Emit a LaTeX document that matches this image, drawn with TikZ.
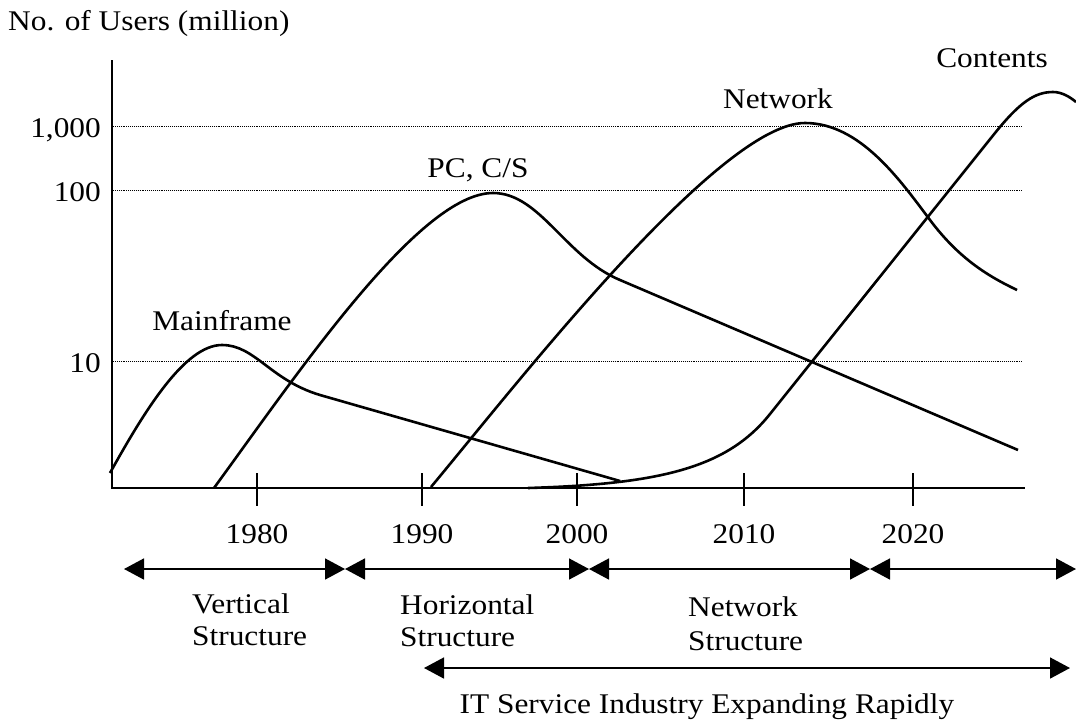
\documentclass[tikz,border=0pt]{standalone}
\usepackage{fontspec}
\setmainfont[FakeStretch=1.1]{Liberation Serif}
\usetikzlibrary{arrows.meta}
\begin{document}
\begin{tikzpicture}[x=1pt,y=-1pt,
  lbl/.style={inner sep=0pt,font=\fontsize{28.5}{32}\selectfont},
  axisline/.style={line width=1.6pt},
  gridline/.style={densely dotted,line width=0.9pt},
  curve/.style={line width=2.6pt,line join=round},
  span/.style={line width=1.6pt,{Triangle[length=20pt,width=21pt]}-{Triangle[length=20pt,width=21pt]}},
  ticks/.style={line width=1.6pt}]
\useasboundingbox (0,0) rectangle (1076,724);
% axes
\coordinate (ytop) at (112,60);
\coordinate (orig) at (112,488);
\coordinate (xend) at (1025,488);
\draw[axisline] (ytop) -- (orig) -- (xend);
% grid lines
\foreach \yy/\nm in {126/g1,190/g2,361/g3}{
  \coordinate (\nm a) at (113,\yy);
  \coordinate (\nm b) at (1023,\yy);
  \draw[gridline] (\nm a) -- (\nm b);
}
\node[lbl,anchor=base east] (l1000) at (101,137) {1,000};
\node[lbl,anchor=base east] (l100) at (101,201) {100};
\node[lbl,anchor=base east] (l10) at (101,372) {10};
\node[lbl,anchor=base west] (ylab) at (8,30) {No. of Users (million)};
% ticks and years
\foreach \xx/\yr in {257/1980,422/1990,577/2000,744/2010,913/2020}{
  \coordinate (t\yr a) at (\xx,473);
  \coordinate (t\yr b) at (\xx,506);
  \draw[ticks] (t\yr a) -- (t\yr b);
  \node[lbl,anchor=base] (y\yr) at (\xx,543) {\yr};
}
% curves
\draw[curve] (110,473) .. controls (145,410) and (185,345) .. (222,345)
  .. controls (255,345) and (270,380) .. (320,395) -- (620,481);
\draw[curve] (214,488) .. controls (300,370) and (420,193) .. (493,193)
  .. controls (540,193) and (565,257) .. (620,280) -- (1018,450);
\draw[curve] (431,487) .. controls (520,380) and (720,123) .. (805,123)
  .. controls (860,123) and (900,180) .. (930,220)
  .. controls (960,260) and (990,277) .. (1017,290);
\draw[curve] (528,488) .. controls (660,484) and (727,468) .. (770,414)
  -- (995,133) .. controls (1020,102) and (1035,92) .. (1053,92)
  .. controls (1062,92) and (1070,97) .. (1076,102);
% curve labels
\node[lbl,anchor=base] (mf) at (222,330) {Mainframe};
\node[lbl,anchor=base] (pc) at (478,177) {PC, C/S};
\node[lbl,anchor=base] (nw) at (778,108) {Network};
\node[lbl,anchor=base] (ct) at (992,67) {Contents};
% period arrows
\coordinate (a0) at (124,569);
\coordinate (a1) at (345,569);
\coordinate (a2) at (589,569);
\coordinate (a3) at (870,569);
\coordinate (a4) at (1076,569);
\draw[span] (a0) -- (a1);
\draw[span] (a1) -- (a2);
\draw[span] (a2) -- (a3);
\draw[span] (a3) -- (a4);
\node[lbl,anchor=base west] (v1) at (192,613) {Vertical};
\node[lbl,anchor=base west] (v2) at (192,645) {Structure};
\node[lbl,anchor=base west] (h1) at (400,614) {Horizontal};
\node[lbl,anchor=base west] (h2) at (400,646) {Structure};
\node[lbl,anchor=base west] (n1) at (688,616) {Network};
\node[lbl,anchor=base west] (n2) at (688,650) {Structure};
% bottom arrow
\coordinate (b0) at (424,668);
\coordinate (b1) at (1070,668);
\draw[span] (b0) -- (b1);
\node[lbl,anchor=base] (it) at (707,713) {IT Service Industry Expanding Rapidly};
\end{tikzpicture}
\end{document}
